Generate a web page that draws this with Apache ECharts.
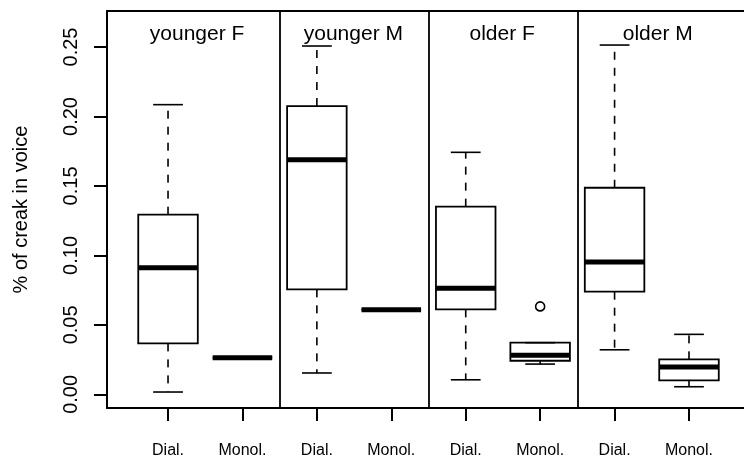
<!DOCTYPE html>
<html>
<head>
<meta charset="utf-8">
<script src="https://cdn.jsdelivr.net/npm/echarts@6/dist/echarts.min.js"></script>
<style>
  html, body { margin: 0; padding: 0; background: #fff; }
  #chart { width: 744px; height: 459px; }
</style>
</head>
<body>
<div id="chart"></div>
<script>
// groups and conditions
var groups = ["younger F", "younger M", "older F", "older M"];
var conditions = ["Dial.", "Monol.", "Dial.", "Monol.", "Dial.", "Monol.", "Dial.", "Monol."];
// box stats per position: [lower whisker, Q1, median, Q3, upper whisker]
var boxStats = [
  [0.0017, 0.0367, 0.0912, 0.1293, 0.2085],
  [0.0264, 0.0264, 0.0264, 0.0264, 0.0264],
  [0.0154, 0.0756, 0.1689, 0.2075, 0.2507],
  [0.0609, 0.0609, 0.0609, 0.0609, 0.0609],
  [0.0105, 0.0612, 0.0763, 0.1351, 0.1742],
  [0.0218, 0.0242, 0.0281, 0.0372, 0.0372],
  [0.0321, 0.0739, 0.0952, 0.1487, 0.2514],
  [0.0055, 0.0101, 0.0197, 0.0252, 0.0432]
];
// outliers: [position, value]
var outliers = [[6, 0.0633]];
var yTicks = [0, 0.05, 0.10, 0.15, 0.20, 0.25];
var xTicks = [1, 2, 3, 4, 5, 6, 7, 8];

var groupLabelAt = [1.39, 3.49, 5.49, 7.58];
var groupLabelY = 0.2594;
var font = "'Liberation Sans', Arial, Helvetica, sans-serif";

var boxData = boxStats.map(function (s, i) {
  return [i + 1].concat(s);
});

function renderBox(params, api) {
  var x = api.value(0);
  var lo = api.value(1), q1 = api.value(2), md = api.value(3), q3 = api.value(4), hi = api.value(5);
  var hw = 0.4, cw = 0.2;
  var pLo = api.coord([x, lo]), pQ1 = api.coord([x, q1]), pMd = api.coord([x, md]);
  var pQ3 = api.coord([x, q3]), pHi = api.coord([x, hi]);
  var left = api.coord([x - hw, md])[0], right = api.coord([x + hw, md])[0];
  var cl = api.coord([x - cw, md])[0], cr = api.coord([x + cw, md])[0];
  var solid = { stroke: "#000", lineWidth: 1.6, fill: null };
  var dashed = { stroke: "#000", lineWidth: 1.6, lineDash: [8, 8] };
  var kids = [];
  if (hi > q3) {
    kids.push({ type: "line", shape: { x1: pQ3[0], y1: pQ3[1], x2: pHi[0], y2: pHi[1] }, style: dashed });
  }
  if (lo < q1) {
    kids.push({ type: "line", shape: { x1: pQ1[0], y1: pQ1[1], x2: pLo[0], y2: pLo[1] }, style: dashed });
  }
  kids.push({ type: "line", shape: { x1: cl, y1: pHi[1], x2: cr, y2: pHi[1] }, style: solid });
  kids.push({ type: "line", shape: { x1: cl, y1: pLo[1], x2: cr, y2: pLo[1] }, style: solid });
  kids.push({ type: "rect", shape: { x: left, y: pQ3[1], width: right - left, height: pQ1[1] - pQ3[1] }, style: { stroke: "#000", lineWidth: 1.8, fill: "none" } });
  kids.push({ type: "line", shape: { x1: left, y1: pMd[1], x2: right, y2: pMd[1] }, style: { stroke: "#000", lineWidth: 5 } });
  return { type: "group", children: kids };
}

var chart = echarts.init(document.getElementById("chart"));
chart.setOption({
  animation: false,
  backgroundColor: "#fff",
  textStyle: { fontFamily: font },
  grid: { left: 107, right: 0, top: 11, bottom: 51 },
  xAxis: [
    {
      type: "value",
      min: 0.18,
      max: 8.739,
      splitLine: { show: false },
      axisLine: { show: true, onZero: false, lineStyle: { color: "#000", width: 2 } },
      axisTick: { show: true, customValues: xTicks, length: 13, lineStyle: { color: "#000", width: 2 } },
      axisLabel: {
        customValues: xTicks,
        margin: 35,
        fontSize: 16,
        color: "#000",
        fontFamily: font,
        formatter: function (v) { return conditions[Math.round(v) - 1]; }
      }
    },
    {
      type: "value",
      position: "top",
      min: 0.18,
      max: 8.739,
      splitLine: { show: false },
      axisLine: { show: true, onZero: false, lineStyle: { color: "#000", width: 2 } },
      axisTick: { show: false },
      axisLabel: { show: false }
    }
  ],
  yAxis: {
    type: "value",
    min: -0.0098,
    max: 0.2759,
    splitLine: { show: false },
    axisLine: { show: true, onZero: false, lineStyle: { color: "#000", width: 2 } },
    axisTick: { show: true, customValues: yTicks, length: 13, lineStyle: { color: "#000", width: 2 } },
    axisLabel: {
      customValues: yTicks,
      rotate: 90,
      margin: 26,
      fontSize: 20,
      color: "#000",
      fontFamily: font,
      formatter: function (v) { return v.toFixed(2); }
    },
    name: "% of creak in voice",
    nameLocation: "middle",
    nameRotate: 90,
    nameGap: 76,
    nameTextStyle: { fontSize: 20, color: "#000", fontFamily: font }
  },
  series: [
    {
      type: "custom",
      renderItem: renderBox,
      data: boxData,
      encode: { x: 0, y: [1, 2, 3, 4, 5] },
      silent: true,
      markLine: {
        silent: true,
        symbol: "none",
        label: { show: false },
        lineStyle: { color: "#000", width: 1.8, type: "solid" },
        data: [{ xAxis: 2.5 }, { xAxis: 4.5 }, { xAxis: 6.5 }]
      }
    },
    {
      type: "scatter",
      data: outliers,
      symbol: "circle",
      symbolSize: 9,
      itemStyle: { color: "rgba(0,0,0,0)", borderColor: "#000", borderWidth: 1.6, opacity: 1 },
      silent: true
    },
    {
      type: "scatter",
      symbolSize: 0,
      silent: true,
      itemStyle: { opacity: 1, color: "#000" },
      data: groups.map(function (g, i) { return { name: g, value: [groupLabelAt[i], groupLabelY] }; }),
      label: { show: true, position: "inside", formatter: "{b}", fontSize: 21, color: "#000", textBorderWidth: 0, fontFamily: font }
    }
  ]
});
</script>
</body>
</html>
